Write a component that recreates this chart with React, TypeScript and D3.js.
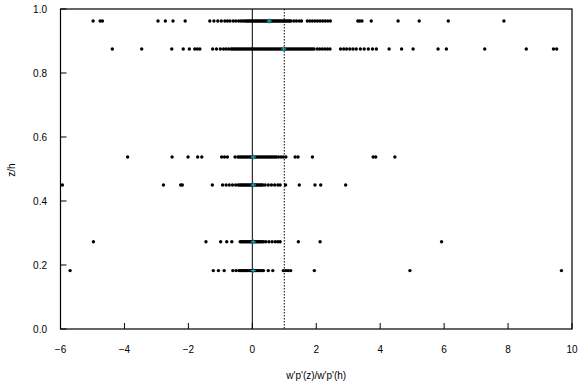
import React from 'react';
import * as d3 from 'd3';

// chart frame, in pixels
const settings = {
  width: 578,
  height: 385,
  left: 60.5,
  right: 572,
  top: 9,
  bottom: 329
};

// height of each measurement row (z/h)
const rowHeights = [0.9625, 0.875, 0.5375, 0.45, 0.2725, 0.1825];

// w'p'(z)/w'p'(h) values, one list per row
const row1 = [-4.98, -4.76, -4.69, -2.95, -2.72, -2.48, -2.1,
  -1.33, -1.2, -1.08, -0.97, -0.86, -0.78, -0.7, -0.6, -0.52, -0.43, -0.36, -0.3, -0.24,
  -0.19, -0.15, -0.11, -0.07, -0.03, 0.01, 0.05, 0.09, 0.13, 0.17, 0.21, 0.25, 0.29, 0.33,
  0.37, 0.41, 0.45, 0.49, 0.53, 0.57, 0.61, 0.65, 0.69, 0.73, 0.77, 0.81, 0.85, 0.89, 0.93,
  0.97, 1.01, 1.05, 1.09, 1.13, 1.17, 1.21, 1.3, 1.38, 1.47,
  1.54, 1.72, 1.8, 1.88, 1.96, 2.04, 2.12, 2.2, 2.28, 2.36, 2.44,
  3.3, 3.36, 3.43, 3.72, 4.56, 5.22, 6.13, 7.87];

const row2 = [-4.38, -3.46, -2.52, -2.16, -1.97, -1.8, -1.72, -1.64,
  -1.24, -1.12, -1.0, -0.9, -0.82, -0.74, -0.66,
  -0.62, -0.57, -0.52, -0.47, -0.42, -0.37, -0.32, -0.27, -0.22, -0.17, -0.12, -0.07, -0.02,
  0.03, 0.08, 0.13, 0.18, 0.23, 0.28, 0.33, 0.38, 0.43, 0.48, 0.53, 0.58, 0.63, 0.68, 0.73,
  0.78, 0.83, 0.88, 0.93, 0.98, 1.03, 1.08, 1.13, 1.18, 1.23, 1.28, 1.33, 1.38, 1.43, 1.48,
  1.53, 1.58, 1.63, 1.68, 1.73, 1.78, 1.83, 1.88, 1.93,
  2.03, 2.11, 2.19, 2.27, 2.35, 2.43, 2.76, 2.86, 2.95, 3.05, 3.15, 3.25,
  3.38, 3.5, 3.63, 3.76, 3.88, 4.28, 4.67, 5.03, 5.81, 6.07, 7.27, 8.57, 9.42, 9.52];

const row3 = [-3.9, -2.51, -2.01, -1.71, -1.58, -0.96, -0.87, -0.78, -0.54,
  -0.45, -0.4, -0.35, -0.3, -0.25, -0.2, -0.15, -0.1, -0.05, 0.0, 0.05, 0.1, 0.15, 0.2,
  0.25, 0.3, 0.35, 0.4, 0.45, 0.5, 0.55, 0.6, 0.65, 0.7, 0.75,
  0.82, 0.9, 0.97, 1.05, 1.34, 1.43, 1.88, 3.78, 3.86, 4.46];

const row4 = [-5.94, -2.78, -2.24, -2.19, -1.25, -0.93, -0.82, -0.72, -0.62, -0.52, -0.44,
  -0.39, -0.35, -0.31, -0.27, -0.23, -0.19, -0.15, -0.11, -0.07, -0.03, 0.01, 0.05, 0.09,
  0.13, 0.17, 0.21, 0.25, 0.29, 0.33,
  0.4, 0.5, 0.6, 0.7, 0.8, 0.87, 1.04, 1.47, 1.96, 2.14, 2.92];

const row5 = [-4.97, -1.45, -0.99, -0.8, -0.64,
  -0.38, -0.34, -0.3, -0.26, -0.22, -0.18, -0.14, -0.1, -0.06, -0.02, 0.02, 0.06, 0.1,
  0.14, 0.18, 0.22, 0.26, 0.3, 0.35,
  0.42, 0.52, 0.62, 0.72, 0.8, 0.87, 1.44, 2.12, 5.92];

const row6 = [-5.7, -1.22, -1.06, -0.88, -0.61, -0.51, -0.42,
  -0.38, -0.34, -0.3, -0.26, -0.22, -0.18, -0.14, -0.1, -0.06, -0.02, 0.02, 0.06, 0.1,
  0.14, 0.18, 0.22, 0.26, 0.3, 0.35,
  0.5, 0.64, 0.97, 1.05, 1.12, 1.2, 1.94, 4.93, 9.67];

const rows = [row1, row2, row3, row4, row5, row6];

// cyan marker per row (row average)
const rowMeans = [0.53, 0.98, 0.03, 0.03, 0.03, 0.03];

const xTicks = [-6, -4, -2, 0, 2, 4, 6, 8, 10];
const yTicks = [0, 0.2, 0.4, 0.6, 0.8, 1.0];

const font = '"Liberation Sans", Arial, Helvetica, sans-serif';

export default function App() {
  const xScale = d3.scaleLinear().domain([-6, 10]).range([settings.left, settings.right]);
  const yScale = d3.scaleLinear().domain([0, 1]).range([settings.bottom, settings.top]);
  const xFormat = d3.format('d');
  const yFormat = d3.format('.1f');

  const points = rows.flatMap((vals, i) => vals.map((v) => ({ x: v, z: rowHeights[i] })));

  return (
    <svg
      width={settings.width}
      height={settings.height}
      style={{ position: 'absolute', left: 0, top: 0, background: '#fff' }}
      fontFamily={font}
    >
      {/* reference lines at 0 and 1 */}
      <line x1={xScale(0)} x2={xScale(0)} y1={settings.top} y2={settings.bottom} stroke="#000" strokeWidth={1} />
      <line x1={xScale(1)} x2={xScale(1)} y1={settings.top} y2={settings.bottom}
        stroke="#000" strokeWidth={1} strokeDasharray="1.5,1.5" />

      <g>
        {points.map((d, i) => (
          <circle key={i} cx={xScale(d.x)} cy={yScale(d.z)} r={1.7} fill="#000" />
        ))}
      </g>

      <g stroke="#1aa9a9" strokeWidth={1.3}>
        {rowMeans.map((m, i) => (
          <g key={i} transform={`translate(${xScale(m)},${yScale(rowHeights[i])})`}>
            <line x1={-2.5} x2={2.5} y1={0} y2={0} />
            <line x1={0} x2={0} y1={-2.5} y2={2.5} />
          </g>
        ))}
      </g>

      {/* frame */}
      <rect x={settings.left} y={settings.top} width={settings.right - settings.left}
        height={settings.bottom - settings.top} fill="none" stroke="#000" strokeWidth={1.2} />

      {/* x axis */}
      {xTicks.map((t) => (
        <g key={t}>
          <line x1={xScale(t)} x2={xScale(t)} y1={settings.bottom} y2={settings.bottom - 6} stroke="#000" />
          <text x={xScale(t)} y={353} textAnchor="middle" fontSize={10} fill="#000">{xFormat(t)}</text>
        </g>
      ))}
      <text x={(settings.left + settings.right) / 2} y={379} textAnchor="middle" fontSize={10} fill="#000">
        w'p'(z)/w'p'(h)
      </text>

      {/* y axis */}
      {yTicks.map((t) => (
        <g key={t}>
          <line x1={settings.left} x2={settings.left + 6} y1={yScale(t)} y2={yScale(t)} stroke="#000" />
          <text x={47} y={yScale(t) + 3.5} textAnchor="end" fontSize={10} fill="#000">{yFormat(t)}</text>
        </g>
      ))}
      <text transform="translate(15,170) rotate(-90)" textAnchor="middle" fontSize={10} fill="#000">z/h</text>
    </svg>
  );
}
